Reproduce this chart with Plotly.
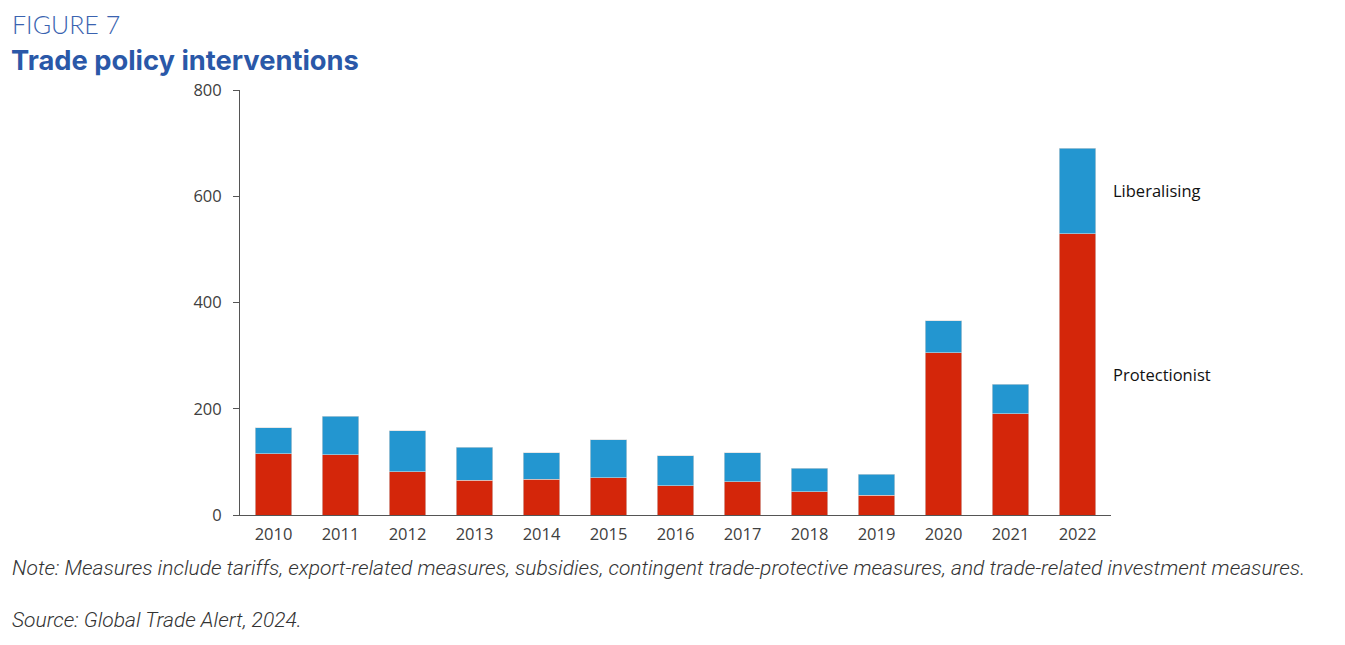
import plotly.graph_objects as go

years = ["2010", "2011", "2012", "2013", "2014", "2015", "2016", "2017", "2018", "2019", "2020", "2021", "2022"]
protectionist = [115, 113, 81, 65, 67, 70, 55, 63, 44, 37, 305, 191, 529]
total = [164, 186, 159, 128, 117, 142, 112, 117, 88, 77, 366, 246, 690]
liberalising = [t - p for t, p in zip(total, protectionist)]
y_ticks = [0, 200, 400, 600, 800]

RED = "#D4260A"
BLUE = "#2396D0"

# page has an 8px body margin; positions below are in figure pixels
W, H = 1345, 645
L, R, T, B = 232, 242, 82, 138
OFF = 8

fig = go.Figure()
fig.add_trace(go.Bar(x=years, y=protectionist, name="Protectionist",
                     marker=dict(color=RED, line=dict(color="#d9d9d9", width=0.6))))
fig.add_trace(go.Bar(x=years, y=liberalising, name="Liberalising",
                     marker=dict(color=BLUE, line=dict(color="#d9d9d9", width=0.6))))

fig.update_layout(
    barmode="stack",
    bargap=0.46,
    width=W, height=H,
    margin=dict(l=L, r=R, t=T, b=B),
    plot_bgcolor="white", paper_bgcolor="white",
    showlegend=False,
    font=dict(family="Open Sans, DejaVu Sans, sans-serif", color="#404040", size=16),
)
fig.update_yaxes(range=[0, 800], tickvals=y_ticks, showgrid=False, zeroline=False,
                 showline=True, linecolor="#555555", linewidth=1,
                 ticks="outside", ticklen=6, tickcolor="#555555",
                 ticklabelstandoff=8,
                 tickfont=dict(size=16.5, color="#404040"))
fig.update_xaxes(showgrid=False, showline=True, linecolor="#555555", linewidth=1,
                 ticks="", ticklabelstandoff=4, tickfont=dict(size=16.5, color="#404040"))

fig.add_annotation(x=1.0, xref="paper", y=610, yref="y", text="Liberalising",
                   showarrow=False, xanchor="left",
                   font=dict(size=16.5, color="#111111"))
fig.add_annotation(x=1.0, xref="paper", y=265, yref="y", text="Protectionist",
                   showarrow=False, xanchor="left",
                   font=dict(size=16.5, color="#111111"))

pix = []
pix.append(dict(x=10, y=24, text="FIGURE 7",
                font=dict(family="Lato, sans-serif", size=25, weight=300, color="#3A63B0")))
pix.append(dict(x=9, y=60, text="<b>Trade policy interventions</b>",
                font=dict(family="Inter, Lato, sans-serif", size=27.3, color="#2A58A8")))
pix.append(dict(x=10, y=568,
                text="<i>Note: Measures include tariffs, export-related measures, subsidies, contingent trade-protective measures, and trade-related investment measures.</i>",
                font=dict(family="Roboto, sans-serif", size=21, weight=300, color="#333333")))
pix.append(dict(x=10, y=620, text="<i>Source: Global Trade Alert, 2024.</i>",
                font=dict(family="Roboto, sans-serif", size=21, weight=300, color="#333333")))

pw, ph = W - L - R, H - T - B
for p in pix:
    sx, sy = p["x"] - OFF, p["y"] - OFF
    fig.add_annotation(x=(sx - L) / pw, y=(H - B - sy) / ph, xref="paper", yref="paper",
                       text=p["text"], showarrow=False, xanchor="left", yanchor="middle",
                       font=p["font"])

fig.write_html("out.html")
